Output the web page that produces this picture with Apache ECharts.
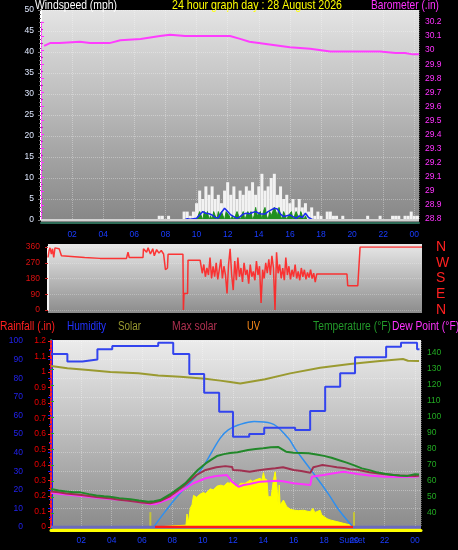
<!DOCTYPE html>
<html><head><meta charset="utf-8">
<script src="https://cdn.jsdelivr.net/npm/echarts@6/dist/echarts.min.js"></script>
<style>html,body{margin:0;padding:0;background:#000;}#c{width:458px;height:550px;}</style>
</head><body><div id="c"></div>
<script>
// ================= DATA =================
const titleText = '24 hour graph day : 28 August 2026';
const windTitle = 'Windspeed (mph)';
const baroTitle = 'Barometer (.in)';
const legendNames = ['Rainfall (.in)', 'Humidity', 'Solar', 'Max solar', 'UV', 'Temperature (°F)', 'Dew Point (°F)'];
const compassLabels = ['N', 'E', 'S', 'W', 'N'];
const sunsetText = 'Sunset';

// Wind gusts (mph), sampled every 0.2 h from 7.4 h
const GUST_T0 = 7.4, GUST_DT = 0.2;
const gustValues = [0,1,1,0,1,0,0,0,0,2, 2,1,2,4,7,5,8,6,8,5, 6,4,7,9,6,8,5,7,6,8,
  7,9,6,8,11,7,8,10,11,6, 8,5,6,4,5,3,5,3,4,2, 3,1,2,1,0,2,2,1,1,0,
  1,0,0,0,0,0,0,0,1,0, 0,0,1,0,0,0,1,1,1,0, 1,1,2,1,1];
// Wind speed (mph), every 0.1 h from 10.0 h
const SPEED_T0 = 10.0, SPEED_DT = 0.1;
const speedValues = [0,1,2,1,0,2,1,2,0,1, 0,2,1,0,2,1,2,1,0,2, 2,1,0,1,0,1,2,1,0,1,
  2,0,1,2,1,2,0,1,3,1, 1,2,0,2,3,1,0,2,1,2, 3,2,1,3,1,0,2,1,0,1, 1,2,0,1,2,1,0,2,1,0, 1,0,0];
// Average wind (mph), every 0.2 h from 9.2 h
const AVG_T0 = 9.2, AVG_DT = 0.2;
const avgValues = [0,0.3,0.2,0.3,0.4,1.2,2.0,1.6,1.5,1.2, 0.6,0.5,1.8,2.8,2.0,1.2,0.8,0.4,0.8,1.4,
  1.6,1.5,1.8,2.0,1.6,1.4,1.4,2.0,2.4,2.8, 2.6,1.4,0.8,1.0,1.2,0.8,0.4,1.0,0.6,1.6, 0.6,0.2,0];

// Barometer (in)
const baroTimes = [0.2,0.58,1.2,2.5,3.15,3.8,4.4,5.1,6.4,7.65,8.3,9.26,10.2,12.15,12.8,13.4,14.7,16.0,17.3,18.6,19.2,20.5,21.8,22.8,23.4,23.9,24.3];
const baroValues = [30.03,30.05,30.05,30.06,30.05,30.05,30.05,30.07,30.08,30.10,30.11,30.10,30.10,30.10,30.08,30.06,30.04,30.02,30.01,29.99,29.99,29.99,29.99,29.98,29.98,29.97,29.97];

// Wind direction (deg)
const dirTimesA = [0.13,0.2,0.26,0.35,0.42,0.5,0.58,0.7,0.85,1.0,1.03,2.5,3.49,5.2,5.3,5.38,6.27,6.3,6.5,6.6,6.75,6.9,7.0,7.15,7.3,7.45,7.6,7.69,7.72,7.85,7.89,8.85,8.88,8.92,9.15,9.18,9.96];
const dirValuesA = [300,340,355,320,350,300,355,350,350,310,300,300,295,295,330,300,300,350,330,355,320,350,310,345,325,340,320,310,230,240,318,318,0,95,95,285,285];
const DIR_T0 = 10.0, DIR_DT = 0.1;
const dirNoise = [285,210,260,190,240,200,300,180,250,190, 270,175,230,290,180,250,200,95,260,350,
  200,114,280,170,300,190,240,160,270,200, 230,150,260,190,220,170,280,200,250,40,
  230,180,270,210,290,200,310,240,0,330, 210,260,180,240,170,300,200,250,175,230,
  190,260,180,220,170,240,190,230,175,215, 185,230,180,210,160,206];
const dirTimesB = [19.45,19.5,20.15,20.3,24.3];
const dirValuesB = [206,139,139,360,360];

// Humidity (%) – stepped
const humTimes = [0,1.08,2.07,3.06,4.04,7.07,8.06,9.12,10.1,11.09,12.0,13.07,14.06,16.1,17.09,18.08,19.07,20.05,22.1,23.08,24.14,24.3];
const humValues = [93,89,90,95.5,97.3,99,93,82.3,72.2,62,48.5,50,53.4,52.2,62.4,75.4,82.6,91.2,96.9,99.1,95.5,95.5];
// Olive trace (humidity scale)
const oliveTimes = [0,1.08,2.46,3.91,5.76,7.07,8.52,10.17,11.16,11.82,12.48,14.12,15.77,17.75,19.72,21.7,23.21,23.54,24.27];
const oliveValues = [86.6,85.3,84.4,83.3,82.6,81.5,80.8,79.7,78.7,78,77.2,79.4,82.6,85.6,87.6,89.2,90.3,89.4,89.2];
// Solar (relative scale)
const solarTimes = [6.8,7.88,8.5,8.9,8.97,9.05,9.18,9.3,9.4,9.6,9.8,10.04,10.2,10.5,10.7,10.96,11.2,11.4,11.62,11.8,11.93,12.0,12.2,12.35,12.5,12.8,13.0,13.14,13.3,13.47,13.6,13.8,13.9,14.01,14.1,14.24,14.32,14.45,14.52,14.67,14.78,14.9,14.98,15.05,15.11,15.2,15.33,15.55,15.8,15.99,16.3,16.65,16.9,17.09,17.27,17.4,17.53,17.75,17.85,17.96,18.2,18.4,18.85,19.28,19.72,19.94];
const solarValues = [0,0.5,0.8,1,7,2,10,12,17,16,17.5,18.5,18,20.5,20,22,22.5,22,23.8,23.5,25.3,23.5,21.7,22,23.5,23.5,24.5,25.3,24.5,25.3,26,26.2,25,29.2,26,25.3,16.3,17,16.3,25.3,29.7,21.7,12,22.6,11.8,13,14.5,10.9,9.5,9.1,8.8,9,8.5,8.2,10,7.8,7.4,9,6.5,5.5,4.5,3.8,2.9,2,1.1,0];
// Max solar curve (relative scale)
const maxSolarTimes = [6.77,7.5,8.31,9.84,11.16,11.69,12.35,13.4,14.52,15.64,16.08,17.15,18.27,19.0,19.92];
const maxSolarValues = [0,8,16.3,30.2,47.8,52.2,54.8,56.7,55.7,47.8,42.3,30.6,18.1,9,0];
// Sunrise / sunset markers
const sunTimes = [6.55, 19.98];
const sunValues = [8, 8];
// Temperature (°F)
const tempTimes = [0,0.5,1,1.5,1.94,2.5,3,3.5,3.9,4.5,5.23,5.8,6.42,6.8,7.2,7.9,8.5,8.85,9.2,9.7,10.2,10.6,10.94,11.4,11.82,12.3,13,13.5,14,14.5,15,15.5,16,16.5,17,17.5,18,18.5,19,19.5,20,20.5,21,21.5,22,22.6,23,23.5,24,24.27];
const tempValues = [55,54,53.5,53,52.9,51.8,51,50.5,50.2,49.3,48.6,47.8,47.1,47.3,48.1,52,56,58.5,62,67,71,73.5,75.6,76.8,77.5,78,79.4,80,80.4,81.1,81.2,78.3,77.7,77.5,77.3,76.5,75.7,74.5,73,71.5,69.8,67.9,66.8,65.4,64.6,63.8,63.5,63.2,64.2,64];
// Maroon trace (°F)
const maroonTimes = [0,0.5,1,1.5,2,2.5,3,3.5,4,4.5,5,5.5,6,6.55,7.2,7.87,8.7,9.6,10.2,10.9,11.5,11.95,12.0,12.5,13.1,13.6,14.2,14.8,15.3,16,16.5,17.1,17.3,17.6,17.9,18.4,18.85,19.3,19.7,20.2,21,22,23,24,24.27];
const maroonValues = [53.5,53,52.2,51.7,51.2,50.6,50,49.5,49,48.3,47.8,47.2,46.6,46.1,47.5,50.6,56.4,63.75,66.9,68.6,69.3,68.8,66.9,66.5,65.8,66.5,67.3,68,68.6,66.9,66.2,65.2,68.6,69.3,70,69.3,68.6,68.2,67.3,67,65.5,64.2,63.5,63.1,63.3];
// Dew point (°F)
const dewTimes = [0,0.5,1.94,3,3.9,5.23,6.2,6.55,6.9,7.87,8.7,9.4,10.2,10.9,11.6,11.93,12.37,12.7,13.1,13.8,14.9,15.3,16,17.1,17.2,17.96,18.85,19.3,20.2,21,22,23,24,24.27];
const dewValues = [52.7,52,50.6,49.5,48.75,47.7,46.1,45.4,45.6,49.2,54.4,58.6,61.7,63.1,63.75,59.6,56.4,57.5,58.1,59.6,60.2,59.8,58.6,57.5,62.7,63.75,65.2,65.8,64.4,63.5,62.7,62.5,62.7,63];
// Rainfall (in)
const rainTimes = [0, 24.4];
const rainValues = [0, 0];

// ================= BUILD =================
const NF = "'Liberation Sans', Arial, sans-serif";
const zip = (t, v) => t.map((x, i) => [x, v[i]]);
const series0 = (t0, dt, v) => v.map((y, i) => [Math.round((t0 + i * dt) * 1000) / 1000, y]);
const dirData = zip(dirTimesA, dirValuesA).concat(series0(DIR_T0, DIR_DT, dirNoise)).concat(zip(dirTimesB, dirValuesB));

const hourLabel = (v) => {
  const r = Math.round(v * 100) / 100;
  if (r <= 0 || r !== Math.round(r) || Math.round(r) % 2 !== 0) return '';
  const h = Math.round(r) % 24;
  return (h < 10 ? '0' : '') + h;
};
const one = v => String(Math.round(v * 10) / 10);
const grad = (a, b) => new echarts.graphic.LinearGradient(0, 0, 0, 1, [{offset: 0, color: a}, {offset: 1, color: b}]);
const gridBase = {outerBoundsMode: 'none', containLabel: false, borderWidth: 0};
const hidX = (gi, min, max) => ({type: 'value', gridIndex: gi, min, max, show: false});
const hidY = (gi) => ({type: 'value', gridIndex: gi, min: 0, max: 1, show: false});
const dotted = 'rgba(255,255,255,0.32)';
const XBLUE = '#1a3cff';
const AX = 8.5;

// text fitting (the reference uses a condensed face)
const mctx = document.createElement('canvas').getContext('2d');
const fit = (text, size, w) => { mctx.font = size + 'px ' + NF; return w / mctx.measureText(text).width; };
const txt = (text, x, y, size, color, w, align, sx) => ({
  type: 'text', x, y, silent: true, scaleX: sx || fit(text, size, w), scaleY: 1,
  style: {text, fill: color, fontSize: size, fontFamily: NF, align: align || 'left', verticalAlign: 'middle'}
});

const legendX = [0, 67, 118, 172, 247, 313, 392];
const legendW = [55, 39, 23, 45, 13, 78, 0];
const legendColors = ['#ff2020', '#2233ff', '#9a9a30', '#b03050', '#ff8c1a', '#22992a', '#ff33ff'];
const tempScale = fit(legendNames[5], 12, legendW[5]);

const graphic = [
  txt(windTitle, 35, 5, 13, '#ffffff', 82),
  txt(titleText, 172, 5, 13, '#ffff00', 170),
  txt(baroTitle, 439, 5, 13, '#ff33ff', 68, 'right'),
  txt(sunsetText, 339, 541, 9, XBLUE, 26)
].concat(legendNames.map((n, i) => txt(n, legendX[i], 327, 12, legendColors[i], legendW[i], 'left', i === 6 ? tempScale : undefined)));

const option = {
  backgroundColor: '#000000',
  animation: false,
  graphic,
  grid: [
    Object.assign({left: 41, top: 10, width: 378, height: 213, show: true, backgroundColor: grad('#e4e4e4', '#868686')}, gridBase), // 0 wind bg
    Object.assign({left: 41, top: 10, width: 378, height: 210}, gridBase), // 1 wind data
    Object.assign({left: 41, top: 22, width: 378, height: 197}, gridBase), // 2 baro
    Object.assign({left: 48, top: 244, width: 374, height: 69, show: true, backgroundColor: grad('#e8e8e8', '#8c8c8c')}, gridBase), // 3 dir bg
    Object.assign({left: 48, top: 247, width: 374, height: 63}, gridBase), // 4 dir data
    Object.assign({left: 51, top: 340, width: 370, height: 190, show: true, backgroundColor: grad('#ececec', '#8a8a8a')}, gridBase), // 5 bottom bg
    Object.assign({left: 51, top: 341, width: 370, height: 186}, gridBase), // 6 hum/rain
    Object.assign({left: 51, top: 353, width: 370, height: 160}, gridBase)  // 7 temp
  ],
  xAxis: [
    {type: 'value', gridIndex: 0, min: 0, max: 24.3, interval: 2,
      axisLine: {show: true, lineStyle: {color: '#2e6b57', width: 2}}, axisTick: {show: false},
      axisLabel: {color: XBLUE, fontSize: AX, fontFamily: NF, margin: 7, formatter: hourLabel}, splitLine: {show: false}},
    {type: 'value', gridIndex: 1, min: 0, max: 24.3, interval: 2, axisLine: {show: false}, axisTick: {show: false},
      axisLabel: {show: false}, splitLine: {show: true, lineStyle: {color: dotted, type: 'dotted'}}},
    hidX(2, 0, 24.3),
    hidX(3, 0.13, 24.3),
    hidX(4, 0.13, 24.3),
    {type: 'value', gridIndex: 5, min: 0, max: 24.4, interval: 2,
      axisLine: {show: true, lineStyle: {color: '#ffff00', width: 3}}, axisTick: {show: false},
      axisLabel: {color: XBLUE, fontSize: AX, fontFamily: NF, margin: 6, formatter: hourLabel}, splitLine: {show: false}},
    {type: 'value', gridIndex: 6, min: 0, max: 24.4, interval: 2, axisLine: {show: false}, axisTick: {show: false},
      axisLabel: {show: false}, splitLine: {show: true, lineStyle: {color: dotted, type: 'dotted'}}},
    hidX(7, 0, 24.4)
  ],
  yAxis: [
    hidY(0),
    {type: 'value', gridIndex: 1, min: 0, max: 50, interval: 5, position: 'left',
      axisLine: {show: true, lineStyle: {color: '#ffffff', width: 2}},
      axisTick: {show: true, length: 3, lineStyle: {color: '#777'}},
      minorTick: {show: true, splitNumber: 5, length: 2, lineStyle: {color: '#666'}},
      axisLabel: {color: '#dfe8ff', fontSize: AX, fontFamily: NF, margin: 7},
      splitLine: {show: true, lineStyle: {color: dotted, type: 'dotted'}}},
    {type: 'value', gridIndex: 2, min: 28.8, max: 30.2, interval: 0.1, position: 'right',
      axisLine: {show: true, lineStyle: {color: '#ff33ff', width: 1, type: 'dotted'}},
      axisTick: {show: true, length: 3, lineStyle: {color: '#ff33ff'}},
      minorTick: {show: true, splitNumber: 2, length: 2, lineStyle: {color: '#cc22cc'}},
      axisLabel: {color: '#ff33ff', fontSize: AX, fontFamily: NF, margin: 6, formatter: one},
      splitLine: {show: false}},
    hidY(3),
    {type: 'value', gridIndex: 4, min: 0, max: 360, interval: 90, position: 'left',
      axisLine: {show: true, lineStyle: {color: '#f4f4f4', width: 2}},
      axisTick: {show: true, length: 3, lineStyle: {color: '#cc2222'}},
      axisLabel: {color: '#dd1111', fontSize: AX, fontFamily: NF, margin: 8},
      splitLine: {show: true, lineStyle: {color: 'rgba(255,255,255,0.25)', type: 'dotted'}}},
    {type: 'value', gridIndex: 4, min: 0, max: 360, interval: 90, position: 'right',
      axisLine: {show: false}, axisTick: {show: false}, splitLine: {show: false},
      axisLabel: {color: '#ff2020', fontSize: 14, fontFamily: NF, margin: 14, formatter: v => compassLabels[Math.round(v / 90)]}},
    {type: 'value', gridIndex: 5, min: 0, max: 1, position: 'right',
      axisLine: {show: true, lineStyle: {color: '#22aa22', width: 2, type: 'dotted'}},
      axisTick: {show: false}, axisLabel: {show: false}, splitLine: {show: false}},
    {type: 'value', gridIndex: 6, min: 0, max: 100, interval: 10, position: 'left', offset: 21,
      axisLine: {show: true, lineStyle: {color: '#1a1aff', width: 3}},
      axisTick: {show: true, length: 3, lineStyle: {color: '#1a1aff'}},
      minorTick: {show: true, splitNumber: 2, length: 2, lineStyle: {color: '#1a1aff'}},
      axisLabel: {color: '#2222ee', fontSize: AX, fontFamily: NF, margin: 7},
      splitLine: {show: true, lineStyle: {color: dotted, type: 'dotted'}}},
    {type: 'value', gridIndex: 6, min: 0, max: 1.2, interval: 0.1, position: 'left', offset: 0,
      axisLine: {show: true, lineStyle: {color: '#ff2020', width: 2, type: 'dotted'}},
      axisTick: {show: true, length: 3, lineStyle: {color: '#ff2020'}},
      minorTick: {show: true, splitNumber: 2, length: 2, lineStyle: {color: '#ff2020'}},
      axisLabel: {color: '#ee0000', fontSize: AX, fontFamily: NF, margin: 5, formatter: one},
      splitLine: {show: false}},
    {type: 'value', gridIndex: 6, min: 0, max: 100, show: false},
    {type: 'value', gridIndex: 7, min: 40, max: 140, interval: 10, position: 'right',
      axisLine: {show: false},
      axisTick: {show: true, length: 3, lineStyle: {color: '#22aa22'}},
      axisLabel: {color: '#22aa22', fontSize: AX, fontFamily: NF, margin: 6},
      splitLine: {show: false}}
  ],
  visualMap: [{type: 'piecewise', show: false, dimension: 0, seriesIndex: 13,
    pieces: [{lt: 6.85, color: '#6a6abf'}, {gte: 6.85, lte: 19.92, color: '#ff1a1a'}, {gt: 19.92, color: '#6a6abf'}]}],
  series: [
    {name: 'Gust', type: 'bar', xAxisIndex: 1, yAxisIndex: 1, barWidth: 3, silent: true,
      itemStyle: {color: '#f2f2f2'}, data: series0(GUST_T0, GUST_DT, gustValues),
      markLine: {silent: true, symbol: ['none', 'none'], label: {show: false},
        lineStyle: {color: '#d2d2d2', width: 2, type: 'solid'}, data: [{yAxis: 0}]}},
    {name: 'Wind speed', type: 'line', xAxisIndex: 1, yAxisIndex: 1, symbol: 'none', silent: true,
      lineStyle: {color: '#1f8f1f', width: 1}, areaStyle: {color: '#1f8f1f', opacity: 1},
      data: series0(SPEED_T0, SPEED_DT, speedValues)},
    {name: 'Average wind', type: 'line', xAxisIndex: 1, yAxisIndex: 1, symbol: 'none', silent: true,
      lineStyle: {color: '#1a2aee', width: 1.5}, data: series0(AVG_T0, AVG_DT, avgValues)},
    {name: 'Barometer', type: 'line', xAxisIndex: 2, yAxisIndex: 2, symbol: 'none', silent: true,
      lineStyle: {color: '#ff3cff', width: 2}, data: zip(baroTimes, baroValues)},
    {name: 'Wind direction', type: 'line', xAxisIndex: 4, yAxisIndex: 4, symbol: 'none', silent: true,
      lineStyle: {color: '#ff2222', width: 1.5, opacity: 0.9}, data: dirData},
    {name: 'Solar', type: 'line', xAxisIndex: 6, yAxisIndex: 9, symbol: 'none', silent: true,
      lineStyle: {color: '#ffff00', width: 1}, areaStyle: {color: '#ffff00', opacity: 1},
      data: zip(solarTimes, solarValues)},
    {name: 'Sun', type: 'bar', xAxisIndex: 6, yAxisIndex: 9, barWidth: 2, silent: true,
      itemStyle: {color: '#c4c43a'}, data: zip(sunTimes, sunValues)},
    {name: 'Olive', type: 'line', xAxisIndex: 6, yAxisIndex: 7, symbol: 'none', silent: true,
      lineStyle: {color: '#9a9a30', width: 2}, data: zip(oliveTimes, oliveValues)},
    {name: 'Max solar', type: 'line', xAxisIndex: 6, yAxisIndex: 9, symbol: 'none', smooth: 0.4, silent: true,
      lineStyle: {color: '#2f8fef', width: 1.5}, data: zip(maxSolarTimes, maxSolarValues)},
    {name: 'Dew Point', type: 'line', xAxisIndex: 7, yAxisIndex: 10, symbol: 'none', silent: true,
      lineStyle: {color: '#ff33ff', width: 2}, data: zip(dewTimes, dewValues)},
    {name: 'Maroon', type: 'line', xAxisIndex: 7, yAxisIndex: 10, symbol: 'none', silent: true,
      lineStyle: {color: '#a03050', width: 2}, data: zip(maroonTimes, maroonValues)},
    {name: 'Temperature', type: 'line', xAxisIndex: 7, yAxisIndex: 10, symbol: 'none', silent: true,
      lineStyle: {color: '#22882a', width: 2}, data: zip(tempTimes, tempValues)},
    {name: 'Humidity', type: 'line', xAxisIndex: 6, yAxisIndex: 7, symbol: 'none', step: 'end', silent: true,
      lineStyle: {color: '#3344ee', width: 2}, data: zip(humTimes, humValues)},
    {name: 'Rainfall', type: 'line', xAxisIndex: 6, yAxisIndex: 8, symbol: 'none', silent: true,
      lineStyle: {width: 2.5}, data: zip(rainTimes, rainValues)}
  ]
};
const chart = echarts.init(document.getElementById('c'), null, {renderer: 'canvas'});
chart.setOption(option);
</script></body></html>
